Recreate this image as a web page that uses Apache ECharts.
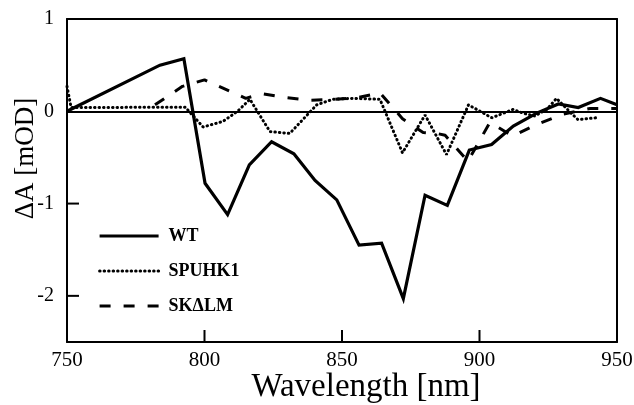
<!DOCTYPE html>
<html>
<head>
<meta charset="utf-8">
<script src="https://cdn.jsdelivr.net/npm/echarts@6/dist/echarts.min.js"></script>
<style>html,body{margin:0;padding:0;background:#fff}#c{width:634px;height:405px}</style>
</head>
<body>
<div id="c"></div>
<script>
// Data
const wtX = [750, 783.8, 792.5, 800.2, 808.4, 816.3, 824.4, 832.5, 840.2, 848.1, 856.2, 864.4, 872.3, 880.2, 888.3, 896.3, 904.4, 912.3, 920.8, 928.7, 935.9, 944, 950];
const wtY = [0, 0.50, 0.57, -0.78, -1.12, -0.58, -0.33, -0.46, -0.75, -0.96, -1.45, -1.43, -2.03, -0.91, -1.02, -0.42, -0.36, -0.16, -0.02, 0.08, 0.04, 0.14, 0.07];

const spX = [750, 751.5, 793, 799.5, 806.7, 812, 816.5, 823.8, 831, 840.8, 846.7, 854, 863.8, 872, 880.2, 888, 896, 902.6, 904.5, 912.2, 915.8, 920, 924.5, 928, 934, 935.8, 942.6];
const spY = [0.27, 0.04, 0.045, -0.17, -0.11, 0, 0.13, -0.22, -0.24, 0.07, 0.13, 0.14, 0.13, -0.45, -0.04, -0.47, 0.07, -0.04, -0.07, 0.02, -0.02, -0.05, 0.02, 0.14, -0.04, -0.09, -0.07];

const skX = [782, 792, 800, 815, 821, 829, 838, 847.5, 856, 863.8, 872, 879.5, 884.5, 887.5, 895.8, 903.8, 912, 920.2, 930.4, 940.2, 950];
const skY = [0.07, 0.27, 0.34, 0.14, 0.19, 0.15, 0.12, 0.13, 0.15, 0.2, -0.08, -0.23, -0.24, -0.26, -0.54, -0.12, -0.27, -0.15, -0.03, 0.03, 0.03];

const seriesNames = ['WT', 'SPUHK1', 'SK\u0394LM'];
const xTicks = [800, 850, 900];
const yTicks = [1, 0, -1, -2];
const xTitle = 'Wavelength [nm]';
const yTitle = '\u0394A [mOD]';

const zip = (xs, ys) => xs.map((x, i) => [x, ys[i]]);
const FONT = 'Liberation Serif';
const BLACK = '#000';

const G = { left: 67, right: 17, top: 19, bottom: 63 };
const X_MIN = 750, X_MAX = 950, Y_MIN = -2.5, Y_MAX = 1;
const TICK_PX = 12;

const chart = echarts.init(document.getElementById('c'));
chart.setOption({
  animation: false,
  backgroundColor: '#fff',
  grid: Object.assign({ outerBoundsMode: 'none', containLabel: false, show: false }, G),
  xAxis: [{
    type: 'value', min: X_MIN, max: X_MAX, interval: 50,
    name: xTitle, nameLocation: 'middle', nameGap: 29, nameMoveOverlap: false,
    nameTextStyle: { fontFamily: FONT, fontSize: 33, color: BLACK, padding: [0, 0, 0, 48] },
    axisLine: { show: true, onZero: false, lineStyle: { color: BLACK, width: 2 } },
    axisTick: { show: false },
    axisLabel: { fontFamily: FONT, fontSize: 21, color: BLACK, margin: 8, showMinLabel: true, showMaxLabel: true },
    splitLine: { show: false },
    z: 10
  }, {
    type: 'value', min: X_MIN, max: X_MAX, position: 'top',
    axisLine: { show: true, onZero: false, lineStyle: { color: BLACK, width: 2 } },
    axisTick: { show: false }, axisLabel: { show: false }, splitLine: { show: false }
  }],
  yAxis: [{
    type: 'value', min: Y_MIN, max: Y_MAX,
    name: yTitle, nameLocation: 'middle', nameGap: 28, nameMoveOverlap: false,
    nameTextStyle: { fontFamily: FONT, fontSize: 27, color: BLACK, padding: [0, 0, 0, 44] },
    axisLine: { show: true, onZero: false, lineStyle: { color: BLACK, width: 2 } },
    axisTick: { show: false },
    axisLabel: { fontFamily: FONT, fontSize: 20, color: BLACK, margin: 13, customValues: yTicks },
    splitLine: { show: false },
    z: 10
  }, {
    type: 'value', min: Y_MIN, max: Y_MAX, position: 'right',
    axisLine: { show: true, onZero: false, lineStyle: { color: BLACK, width: 2 } },
    axisTick: { show: false }, axisLabel: { show: false }, splitLine: { show: false }
  }],
  legend: {
    orient: 'vertical', left: 98, top: 227, padding: 0, itemWidth: 59, itemHeight: 18, itemGap: 17,
    data: seriesNames,
    itemStyle: { opacity: 0 },
    lineStyle: { width: 'inherit', type: 'inherit', cap: 'inherit' },
    textStyle: { fontFamily: FONT, fontSize: 18, fontWeight: 'bold', color: BLACK, padding: [0, 0, 0, 5] }
  },
  series: [
    {
      name: seriesNames[0], type: 'line', data: zip(wtX, wtY), symbol: 'none',
      lineStyle: { color: BLACK, width: 3.2, join: 'miter' }, itemStyle: { color: BLACK },
      markLine: {
        silent: true, symbol: 'none', label: { show: false },
        lineStyle: { color: BLACK, width: 2, type: 'solid' },
        emphasis: { disabled: true },
        data: [{ yAxis: 0 }]
      },
      z: 5
    },
    {
      name: seriesNames[1], type: 'line', data: zip(spX, spY), symbol: 'none',
      lineStyle: { color: BLACK, width: 3, type: [0.5, 4], cap: 'round' }, itemStyle: { color: BLACK }, z: 4
    },
    {
      name: seriesNames[2], type: 'line', data: zip(skX, skY), symbol: 'none',
      lineStyle: { color: BLACK, width: 3, type: [11, 13] }, itemStyle: { color: BLACK }, z: 3
    }
  ]
});

// Inward frame ticks, placed through the chart's own axis scales
const finder = { xAxisIndex: 0, yAxisIndex: 0 };
const tickEls = [];
xTicks.forEach(v => {
  const p = chart.convertToPixel(finder, [v, Y_MIN]);
  if (p) tickEls.push({ type: 'line', silent: true, z: 100,
    shape: { x1: p[0], y1: p[1], x2: p[0], y2: p[1] - TICK_PX },
    style: { stroke: BLACK, lineWidth: 2 } });
});
yTicks.filter(v => v > Y_MIN && v < Y_MAX && v !== 0).forEach(v => {
  const p = chart.convertToPixel(finder, [X_MIN, v]);
  if (p) tickEls.push({ type: 'line', silent: true, z: 100,
    shape: { x1: p[0], y1: p[1], x2: p[0] + TICK_PX, y2: p[1] },
    style: { stroke: BLACK, lineWidth: 2 } });
});
chart.setOption({ graphic: { elements: tickEls } });
</script>
</body>
</html>
